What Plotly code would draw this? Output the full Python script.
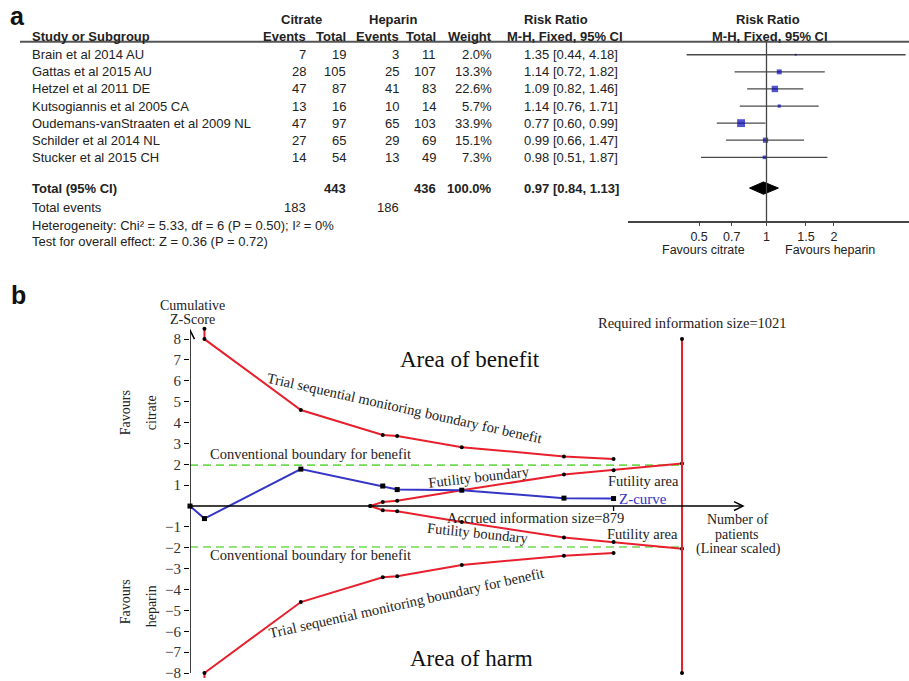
import plotly.graph_objects as go

W, H = 909, 681

# ---------------- Panel a data ----------------
studies = ["Brain et al 2014 AU", "Gattas et al 2015 AU", "Hetzel et al 2011 DE",
           "Kutsogiannis et al 2005 CA", "Oudemans-vanStraaten et al 2009 NL",
           "Schilder et al 2014 NL", "Stucker et al 2015 CH"]
cit_events = [7, 28, 47, 13, 47, 27, 14]
cit_total = [19, 105, 87, 16, 97, 65, 54]
hep_events = [3, 25, 41, 10, 65, 29, 13]
hep_total = [11, 107, 83, 14, 103, 69, 49]
weights = [2.0, 13.3, 22.6, 5.7, 33.9, 15.1, 7.3]
rr = [1.35, 1.14, 1.09, 1.14, 0.77, 0.99, 0.98]
rr_lo = [0.44, 0.72, 0.82, 0.76, 0.60, 0.66, 0.51]
rr_hi = [4.18, 1.82, 1.46, 1.71, 0.99, 1.47, 1.87]
total_cit, total_hep = 443, 436
total_weight = 100.0
events_cit, events_hep = 183, 186
pooled_rr, pooled_lo, pooled_hi = 0.97, 0.84, 1.13
forest_ticks = [0.5, 0.7, 1, 1.5, 2]
forest_ticktext = ["0.5", "0.7", "1", "1.5", "2"]

# ---------------- Panel b data ----------------
patients = [0, 30, 230, 400, 430, 564, 776, 879]
z_curve = [0, -0.6, 1.77, 0.96, 0.79, 0.76, 0.38, 0.36]
tsm_patients = [30, 30, 230, 400, 430, 564, 776, 879]
tsm_benefit = [8.5, 8.0, 4.6, 3.41, 3.36, 2.82, 2.38, 2.25]
fut_patients = [374, 400, 430, 564, 776, 879, 1021]
fut_bound = [0, 0.2, 0.25, 0.76, 1.51, 1.72, 2.04]
ris = 1021
accrued = 879
conv = 1.96
z_ticks = [-8, -7, -6, -5, -4, -3, -2, -1, 1, 2, 3, 4, 5, 6, 7, 8]

SANS = "Liberation Sans, Arial, sans-serif"
SERIF = "Liberation Serif, Times New Roman, serif"
RED = "#e8202e"
BLUE = "#3535c8"
GREEN = "#6fdc4f"
TXT = "#222222"


def X(px):
    return px / W


def Y(py):
    return 1 - py / H


annotations = []


def ann(text, x, y, anchor="center", size=13, bold=False, font=SANS, color=TXT,
        angle=0):
    if bold:
        text = "<b>" + text + "</b>"
    annotations.append(dict(text=text, x=X(x), y=Y(y), xref="paper", yref="paper",
                            xanchor=anchor, yanchor="middle", showarrow=False,
                            textangle=angle, borderpad=0,
                            font=dict(family=font, size=size, color=color)))


# ---------- Panel a table ----------
ROW0, ROWH = 55.0, 17.17
TOTAL_ROW = 7.8


def rowpx(r):
    return ROW0 + ROWH * r


ann("a", 17, 16, size=25, bold=True, color="#111")
ann("Citrate", 301, 20, bold=True)
ann("Heparin", 393, 20, bold=True)
ann("Risk Ratio", 556, 20, bold=True)
ann("Risk Ratio", 768, 20, bold=True)
ann("Study or Subgroup", 31, 37, anchor="left", bold=True)
ann("Events", 307, 37, anchor="right", bold=True)
ann("Total", 347, 37, anchor="right", bold=True)
ann("Events", 400, 37, anchor="right", bold=True)
ann("Total", 437, 37, anchor="right", bold=True)
ann("Weight", 493, 37, anchor="right", bold=True)
ann("M-H, Fixed, 95% CI", 565, 37, bold=True)
ann("M-H, Fixed, 95% CI", 770, 37, bold=True)

for i, s in enumerate(studies):
    yp = rowpx(i)
    ann(s, 31, yp, anchor="left")
    ann(str(cit_events[i]), 307, yp, anchor="right")
    ann(str(cit_total[i]), 347, yp, anchor="right")
    ann(str(hep_events[i]), 400, yp, anchor="right")
    ann(str(hep_total[i]), 437, yp, anchor="right")
    ann(f"{weights[i]:.1f}%", 493, yp, anchor="right")
    ann(f"{rr[i]:.2f} [{rr_lo[i]:.2f}, {rr_hi[i]:.2f}]", 523, yp, anchor="left")

yt = rowpx(TOTAL_ROW)
ann("Total (95% CI)", 31, yt, anchor="left", bold=True)
ann(str(total_cit), 347, yt, anchor="right", bold=True)
ann(str(total_hep), 437, yt, anchor="right", bold=True)
ann(f"{total_weight:.1f}%", 493, yt, anchor="right", bold=True)
ann(f"{pooled_rr:.2f} [{pooled_lo:.2f}, {pooled_hi:.2f}]", 523, yt, anchor="left", bold=True)
ann("Total events", 31, 208, anchor="left")
ann(str(events_cit), 307, 208, anchor="right")
ann(str(events_hep), 400, 208, anchor="right")
ann("Heterogeneity: Chi² = 5.33, df = 6 (P = 0.50); I² = 0%", 31, 226, anchor="left")
ann("Test for overall effect: Z = 0.36 (P = 0.72)", 31, 243, anchor="left")
ann("Favours citrate", 703, 251, size=12.5)
ann("Favours heparin", 830, 251, size=12.5)

# ---------- Panel b texts ----------
ann("b", 18, 296, size=25, bold=True, color="#111")
ann("Cumulative", 192, 306.5, size=14, font=SERIF)
ann("Z-Score", 192, 321, size=14, font=SERIF)
ann("Favours", 125, 415, size=14, font=SERIF, angle=-90)
ann("citrate", 151, 415, size=14, font=SERIF, angle=-90)
ann("Favours", 125, 605, size=14, font=SERIF, angle=-90)
ann("heparin", 151, 609, size=14, font=SERIF, angle=-90)
ann("Required information size=1021", 692, 324, size=14.5, font=SERIF)
ann("Area of benefit", 470, 361, size=23, font=SERIF, color="#111")
ann("Area of harm", 471, 661, size=23, font=SERIF, color="#111")
ann("Trial sequential monitoring boundary for benefit", 404, 410, size=14.5,
    font=SERIF, angle=12.5)
ann("Trial sequential monitoring boundary for benefit", 406, 606, size=14.5,
    font=SERIF, angle=-12.5)
ann("Conventional boundary for benefit", 310, 456, size=14.5, font=SERIF)
ann("Conventional boundary for benefit", 310, 557, size=14.5, font=SERIF)
ann("Futility boundary", 479, 479, size=14.5, font=SERIF, angle=-6.5)
ann("Futility boundary", 478, 535, size=14.5, font=SERIF, angle=6)
ann("Futility area", 643, 483, size=14.5, font=SERIF)
ann("Futility area", 642, 536, size=14.5, font=SERIF)
ann("Z-curve", 618, 501, anchor="left", size=15, font=SERIF, color=BLUE)
ann("Accrued information size=879", 535, 520, size=14.5, font=SERIF)
ann("Number of", 737, 522, size=14, font=SERIF)
ann("patients", 737, 536.5, size=14, font=SERIF)
ann("(Linear scaled)", 738, 551, size=14, font=SERIF)

fig = go.Figure()

# ---------- Forest plot traces (x2/y2) ----------
rows = list(range(len(studies)))
fig.add_trace(go.Scatter(
    x=rr, y=rows, xaxis="x2", yaxis="y2", mode="markers",
    marker=dict(symbol="square", color="#0808b8",
                size=[1.35 * w ** 0.5 for w in weights], line=dict(width=0)),
    error_x=dict(type="data", symmetric=False,
                 array=[h - r for h, r in zip(rr_hi, rr)],
                 arrayminus=[r - l for r, l in zip(rr, rr_lo)],
                 color="#4a4a4a", thickness=1.3, width=0),
    cliponaxis=False, hoverinfo="skip", showlegend=False))
dh = 0.36
fig.add_trace(go.Scatter(
    x=[pooled_lo, pooled_rr, pooled_hi, pooled_rr, pooled_lo],
    y=[TOTAL_ROW, TOTAL_ROW - dh, TOTAL_ROW, TOTAL_ROW + dh, TOTAL_ROW],
    xaxis="x2", yaxis="y2", mode="lines", fill="toself", fillcolor="black",
    line=dict(color="black", width=1), hoverinfo="skip", showlegend=False))


# ---------- TSA traces (x/y) ----------
def line_trace(x, y, color, marker_symbol="circle", msize=4, width=2, dash=None,
               markers=True):
    return go.Scatter(x=x, y=y, mode="lines+markers" if markers else "lines",
                      line=dict(color=color, width=width, dash=dash),
                      marker=dict(color="black", size=msize, symbol=marker_symbol),
                      cliponaxis=False, hoverinfo="skip", showlegend=False)


fig.add_trace(line_trace([0, ris], [conv, conv], GREEN, width=1.6, dash="8px,5px",
                         markers=False))
fig.add_trace(line_trace([0, ris], [-conv, -conv], GREEN, width=1.6, dash="8px,5px",
                         markers=False))
fig.add_trace(line_trace(tsm_patients, tsm_benefit, RED))
fig.add_trace(line_trace(tsm_patients, [-v for v in tsm_benefit], RED))
fig.add_trace(line_trace(fut_patients, fut_bound, RED))
fig.add_trace(line_trace(fut_patients, [-v for v in fut_bound], RED))
fig.add_trace(line_trace([ris, ris], [8, -8], RED, width=2))
fig.add_trace(line_trace(patients, z_curve, BLUE, marker_symbol="square", msize=5))

# ---------- Axes geometry ----------
PXP = 492.0 / 1021.0       # pixels per patient
Z0, PZ = 508.3, 20.96      # pixel of z=0, pixels per z unit
XB0 = 190
YB_TOP, YB_BOT = 320, 681
F_LEFT, F_RIGHT = 628, 909
F_ONE, F_DEC = 766.5, 224.0
FA_TOP, FA_BOT = 42, 222

x_arrow = (743 - XB0) / PXP
y_arrow = (Z0 - 331.7) / PZ

shapes = [
    dict(type="line", xref="paper", yref="paper", x0=X(20), x1=1, y0=Y(42), y1=Y(42),
         line=dict(color="#555", width=2)),
    dict(type="line", xref="x2", yref="y2 domain", x0=1, x1=1, y0=0, y1=1,
         line=dict(color="#444", width=1.3)),
    dict(type="line", xref="x", yref="y", x0=0, x1=0, y0=-8, y1=y_arrow,
         line=dict(color="black", width=1.5)),
    dict(type="line", xref="x", yref="y", x0=0, x1=x_arrow, y0=0, y1=0,
         line=dict(color="black", width=1.5)),
    dict(type="path", xref="x", yref="y",
         path=f"M {x_arrow - 9 / PXP} {4.5 / PZ} L {x_arrow} 0 L {x_arrow - 9 / PXP} {-4.5 / PZ}",
         line=dict(color="black", width=1.5)),
    dict(type="path", xref="x", yref="y",
         path=f"M {-4.5 / PXP} {y_arrow - 9 / PZ} L 0 {y_arrow} L {4.5 / PXP} {y_arrow - 9 / PZ}",
         line=dict(color="black", width=1.5)),
    dict(type="line", xref="x", yref="y", x0=accrued, x1=accrued, y0=0, y1=-5 / PZ,
         line=dict(color="black", width=1.3)),
]

fig.update_layout(
    width=W, height=H, margin=dict(l=0, r=0, t=0, b=0),
    paper_bgcolor="white", plot_bgcolor="rgba(0,0,0,0)",
    showlegend=False,
    xaxis=dict(domain=[X(XB0), 1], range=[0, (W - XB0) / PXP], visible=False,
               fixedrange=True),
    yaxis=dict(domain=[0, Y(YB_TOP)],
               range=[(Z0 - YB_BOT) / PZ, (Z0 - YB_TOP) / PZ],
               showgrid=False, zeroline=False, showline=False,
               ticks="outside", ticklen=5, tickwidth=1.3, tickcolor="black",
               tickvals=z_ticks,
               ticktext=[("\u2212" + str(-v)) if v < 0 else str(v) for v in z_ticks],
               ticklabeloverflow="allow",
               tickfont=dict(family=SERIF, size=15, color="#333"), fixedrange=True),
    xaxis2=dict(domain=[X(F_LEFT), 1], type="log", anchor="y2",
                range=[(F_LEFT - F_ONE) / F_DEC, (F_RIGHT - F_ONE) / F_DEC],
                showgrid=False, zeroline=False, showline=True, linecolor="#444",
                linewidth=1.5, ticks="outside", ticklen=3, tickwidth=1.3,
                tickcolor="#444", tickvals=forest_ticks, ticktext=forest_ticktext,
                tickfont=dict(family=SANS, size=12.5, color=TXT), fixedrange=True),
    yaxis2=dict(domain=[Y(FA_BOT), Y(FA_TOP)], anchor="x2",
                range=[(FA_BOT - ROW0) / ROWH, (FA_TOP - ROW0) / ROWH],
                visible=False, fixedrange=True),
    shapes=shapes,
    annotations=annotations,
)

fig.write_html("out.html", config={"displayModeBar": False},
               post_script="document.body.style.margin='0';document.body.style.overflow='hidden';")
